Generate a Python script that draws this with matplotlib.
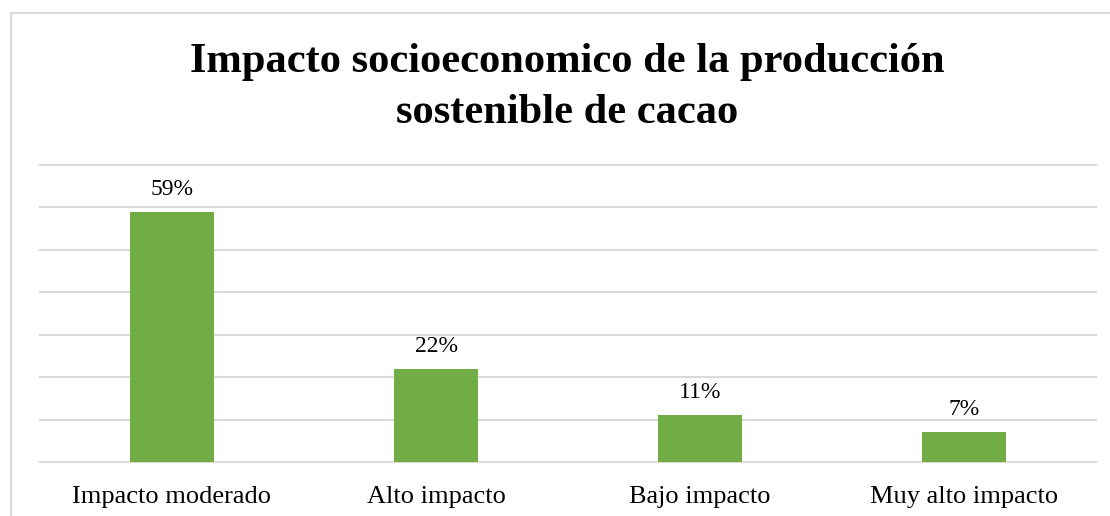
import matplotlib.pyplot as plt
from matplotlib.patches import Rectangle

categories = ["Impacto moderado", "Alto impacto", "Bajo impacto", "Muy alto impacto"]
values = [0.59, 0.22, 0.11, 0.07]
labels = ["59%", "22%", "11%", "7%"]
title_lines = ["Impacto socioeconomico de la producción", "sostenible de cacao"]

plt.rcParams["font.family"] = ["Liberation Serif", "DejaVu Serif"]

W, H = 1110, 516
fig = plt.figure(figsize=(W / 100, H / 100), dpi=100)

# chart border (runs off the right/bottom edge like the reference)
fig.patches.append(Rectangle((11 / W, -0.1), 1.2, 1.1 - 13 / H, transform=fig.transFigure,
                             fill=False, edgecolor="#D9D9D9", linewidth=1.5))

ax = fig.add_axes([40 / W, (H - 462) / H, 1056 / W, (462 - 165) / H])
x = range(len(categories))
ax.bar(x, values, width=0.315, color="#70AD47", zorder=3)
ax.set_xlim(-0.5, len(categories) - 0.5)
ax.set_ylim(0, 0.70)
ax.set_yticks([i / 10 for i in range(8)])
ax.yaxis.grid(True, color="#D9D9D9", linewidth=1.5, zorder=0)
for gl in ax.get_ygridlines():
    gl.set_clip_on(False)
ax.tick_params(left=False, labelleft=False, bottom=False, length=0)
for s in ax.spines.values():
    s.set_visible(False)
ax.set_xticks(list(x))
ax.set_xticklabels(categories, fontsize=19, color="#000000")
ax.tick_params(axis="x", pad=29.5)
for t in ax.get_xticklabels():
    t.set_va("baseline")

for i, (v, lab) in enumerate(zip(values, labels)):
    ax.annotate(lab, (i, v), xytext=(0, 12.2), textcoords="offset points",
                ha="center", va="baseline", fontsize=17)

for line, y in zip(title_lines, [72, 123]):
    fig.text(567 / W, 1 - y / H, line, ha="center", va="baseline", fontsize=30.6,
             fontweight="bold")

fig.savefig("out.png", dpi=100)
